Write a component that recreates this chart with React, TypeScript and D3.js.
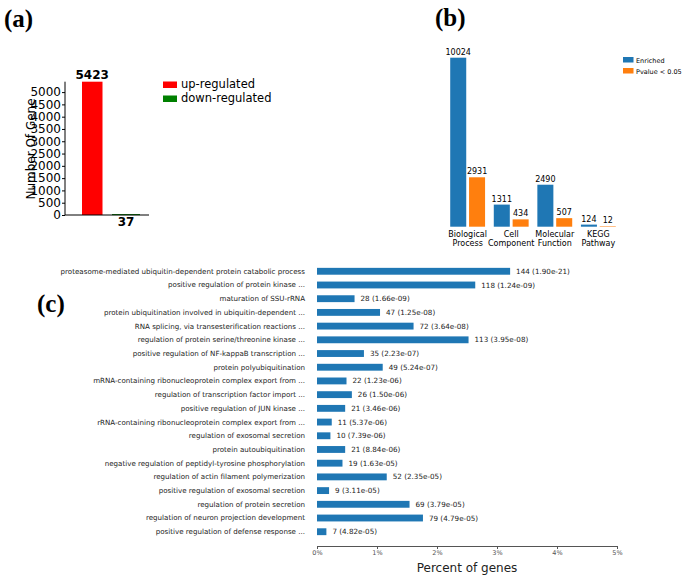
import React, { useEffect, useRef } from 'react';
import * as d3 from 'd3';

// panel (a)
const regCategories = ['up-regulated', 'down-regulated'];
const regValues = [5423, 37];
const regColors = ['#ff0000', '#008000'];
const regTicks = [0, 500, 1000, 1500, 2000, 2500, 3000, 3500, 4000, 4500, 5000];

// panel (b)
const goCategories = [
  ['Biological', 'Process'],
  ['Cell', 'Component'],
  ['Molecular', 'Function'],
  ['KEGG', 'Pathway'],
];
const goSeries = ['Enriched', 'Pvalue < 0.05'];
const enrichedValues = [10024, 1311, 2490, 124];
const pvalueValues = [2931, 434, 507, 12];
const goColors = ['#1f77b4', '#ff7f0e'];

// panel (c)
const termLabels = [
  'proteasome-mediated ubiquitin-dependent protein catabolic process',
  'positive regulation of protein kinase ...',
  'maturation of SSU-rRNA',
  'protein ubiquitination involved in ubiquitin-dependent ...',
  'RNA splicing, via transesterification reactions ...',
  'regulation of protein serine/threonine kinase ...',
  'positive regulation of NF-kappaB transcription ...',
  'protein polyubiquitination',
  'mRNA-containing ribonucleoprotein complex export from ...',
  'regulation of transcription factor import ...',
  'positive regulation of JUN kinase ...',
  'rRNA-containing ribonucleoprotein complex export from ...',
  'regulation of exosomal secretion',
  'protein autoubiquitination',
  'negative regulation of peptidyl-tyrosine phosphorylation',
  'regulation of actin filament polymerization',
  'positive regulation of exosomal secretion',
  'regulation of protein secretion',
  'regulation of neuron projection development',
  'positive regulation of defense response ...',
];
const termCounts = [144, 118, 28, 47, 72, 113, 35, 49, 22, 26, 21, 11, 10, 21, 19, 52, 9, 69, 79, 7];
const termPvalues = [
  '1.90e-21', '1.24e-09', '1.66e-09', '1.25e-08', '3.64e-08', '3.95e-08', '2.23e-07',
  '5.24e-07', '1.23e-06', '1.50e-06', '3.46e-06', '5.37e-06', '7.39e-06', '8.84e-06',
  '1.63e-05', '2.35e-05', '3.11e-05', '3.79e-05', '4.79e-05', '4.82e-05',
];
const TOTAL_GENES = 4474;
const percentTicks = [0, 1, 2, 3, 4, 5];

const FONT = 'DejaVu Sans, sans-serif';
const SERIF = 'Liberation Serif, Times New Roman, serif';

const App: React.FC = () => {
  const svgRef = useRef<SVGSVGElement | null>(null);

  useEffect(() => {
    if (!svgRef.current) return;
    const svg = d3.select(svgRef.current);
    svg.selectAll('*').remove();

    svg.append('rect').attr('width', 685).attr('height', 582).attr('fill', '#fff');

    const panelLabel = (t: string, x: number, y: number) =>
      svg
        .append('text')
        .attr('x', x)
        .attr('y', y)
        .attr('font-family', SERIF)
        .attr('font-weight', 'bold')
        .attr('font-size', 25)
        .text(t);

    panelLabel('(a)', 4, 27);
    panelLabel('(b)', 435, 26);
    panelLabel('(c)', 37, 312);

    // ---------- (a)
    const a = svg.append('g');
    const ya = d3.scaleLinear().domain([0, 5423]).range([215, 81.7]);
    // bar positions: red sits left, the thin green one to its right
    const barX = [82, 112];
    const barW = [20.5, 28];

    a.selectAll('rect.bar')
      .data(regValues)
      .join('rect')
      .attr('x', (_, i) => barX[i])
      .attr('width', (_, i) => barW[i])
      .attr('y', (d) => ya(d))
      .attr('height', (d) => Math.max(ya(0) - ya(d), 1))
      .attr('fill', (_, i) => regColors[i]);

    a.selectAll('text.val')
      .data(regValues)
      .join('text')
      .attr('x', (_, i) => (i === 0 ? 92.2 : 126))
      .attr('y', (d, i) => (i === 0 ? ya(d) - 3 : 226))
      .attr('text-anchor', 'middle')
      .attr('font-family', FONT)
      .attr('font-weight', 'bold')
      .attr('font-size', 12)
      .text((d) => d);

    const ayAxis = a
      .append('g')
      .attr('transform', 'translate(65,0)')
      .call(
        d3
          .axisLeft(ya)
          .tickValues(regTicks)
          .tickFormat(d3.format('d'))
          .tickSize(3)
          .tickPadding(1)
          .tickSizeOuter(0),
      );
    ayAxis.select('.domain').attr('d', `M0,${ya(0)}V81.7`).attr('stroke', '#000');
    ayAxis.selectAll('text').attr('font-family', FONT).attr('font-size', 12).attr('fill', '#000');
    a.append('line').attr('x1', 65).attr('x2', 149).attr('y1', 215).attr('y2', 215).attr('stroke', '#000');

    a.append('text')
      .attr('transform', 'translate(35,149) rotate(-90)')
      .attr('text-anchor', 'middle')
      .attr('font-family', FONT)
      .attr('font-size', 12)
      .text('Number Of Gene');

    regCategories.forEach((c, i) => {
      a.append('rect')
        .attr('x', 163)
        .attr('y', 81.5 + i * 14)
        .attr('width', 14)
        .attr('height', 6.5)
        .attr('fill', regColors[i]);
      a.append('text')
        .attr('x', 181)
        .attr('y', 88 + i * 14)
        .attr('font-family', FONT)
        .attr('font-size', 11.5)
        .text(c);
    });

    // ---------- (b)
    const b = svg.append('g');
    const xb = d3.scaleBand<number>().domain(d3.range(goCategories.length)).range([441.5, 624.5]).padding(0.2);
    const xbInner = d3.scaleBand<number>().domain([0, 1]).range([0, xb.bandwidth()]).paddingInner(0.15);
    const yb = d3.scaleLinear().domain([0, 10024]).range([226.7, 57.7]);
    const seriesValues = [enrichedValues, pvalueValues];

    seriesValues.forEach((vals, s) => {
      b.selectAll(`rect.s${s}`)
        .data(vals)
        .join('rect')
        .attr('x', (_, i) => xb(i)! + xbInner(s)!)
        .attr('width', xbInner.bandwidth())
        .attr('y', (d) => yb(d))
        .attr('height', (d) => Math.max(yb(0) - yb(d), 0.5))
        .attr('fill', goColors[s]);
      b.selectAll(`text.s${s}`)
        .data(vals)
        .join('text')
        .attr('x', (_, i) => xb(i)! + xbInner(s)! + xbInner.bandwidth() / 2)
        .attr('y', (d) => yb(d) - 3)
        .attr('text-anchor', 'middle')
        .attr('font-family', FONT)
        .attr('font-size', 8)
        .text((d) => d);
    });

    goCategories.forEach((lines, i) => {
      lines.forEach((l, j) =>
        b
          .append('text')
          .attr('x', xb(i)! + xb.bandwidth() / 2)
          .attr('y', 237 + j * 8.6)
          .attr('text-anchor', 'middle')
          .attr('font-family', FONT)
          .attr('font-size', 8)
          .text(l),
      );
    });

    goSeries.forEach((sname, i) => {
      b.append('rect')
        .attr('x', 623)
        .attr('y', 57 + i * 11)
        .attr('width', 10.5)
        .attr('height', 5.5)
        .attr('fill', goColors[i]);
      b.append('text')
        .attr('x', 636)
        .attr('y', 63 + i * 11)
        .attr('font-family', FONT)
        .attr('font-size', 6.5)
        .text(sname);
    });

    // ---------- (c)
    const c = svg.append('g');
    const xc = d3.scaleLinear().domain([0, 5]).range([317, 617]);
    const yc = d3.scaleBand<number>().domain(d3.range(termLabels.length)).range([261, 542]).padding(0.5);
    const pct = (n: number) => (n / TOTAL_GENES) * 100;

    c.selectAll('rect')
      .data(termCounts)
      .join('rect')
      .attr('x', xc(0))
      .attr('y', (_, i) => yc(i)!)
      .attr('width', (d) => xc(pct(d)) - xc(0))
      .attr('height', yc.bandwidth())
      .attr('fill', '#1f77b4');

    c.selectAll('text.val')
      .data(termCounts)
      .join('text')
      .attr('class', 'val')
      .attr('x', (d) => xc(pct(d)) + 6)
      .attr('y', (_, i) => yc(i)! + yc.bandwidth() / 2)
      .attr('dy', '0.35em')
      .attr('font-family', FONT)
      .attr('font-size', 7.2)
      .attr('fill', '#222')
      .text((d, i) => `${d} (${termPvalues[i]})`);

    c.selectAll('text.lab')
      .data(termLabels)
      .join('text')
      .attr('class', 'lab')
      .attr('x', 305)
      .attr('y', (_, i) => yc(i)! + yc.bandwidth() / 2)
      .attr('dy', '0.35em')
      .attr('text-anchor', 'end')
      .attr('font-family', FONT)
      .attr('font-size', 7.1)
      .attr('fill', '#222')
      .text((d) => d);

    const cx = c
      .append('g')
      .attr('transform', 'translate(0,546)')
      .call(
        d3
          .axisBottom(xc)
          .tickValues(percentTicks)
          .tickFormat((d) => `${d}%`)
          .tickSize(3)
          .tickSizeOuter(0)
          .tickPadding(1),
      );
    cx.select('.domain').attr('stroke', '#555');
    cx.selectAll('line').attr('stroke', '#555');
    cx.selectAll('text').attr('font-family', FONT).attr('font-size', 6.5).attr('fill', '#555');

    c.append('text')
      .attr('x', 467)
      .attr('y', 572)
      .attr('text-anchor', 'middle')
      .attr('font-family', FONT)
      .attr('font-size', 12)
      .attr('fill', '#222')
      .text('Percent of genes');
  }, []);

  return (
    <div style={{ position: 'absolute', left: 0, top: 0 }}>
      <svg ref={svgRef} width={685} height={582} />
    </div>
  );
};

export default App;
